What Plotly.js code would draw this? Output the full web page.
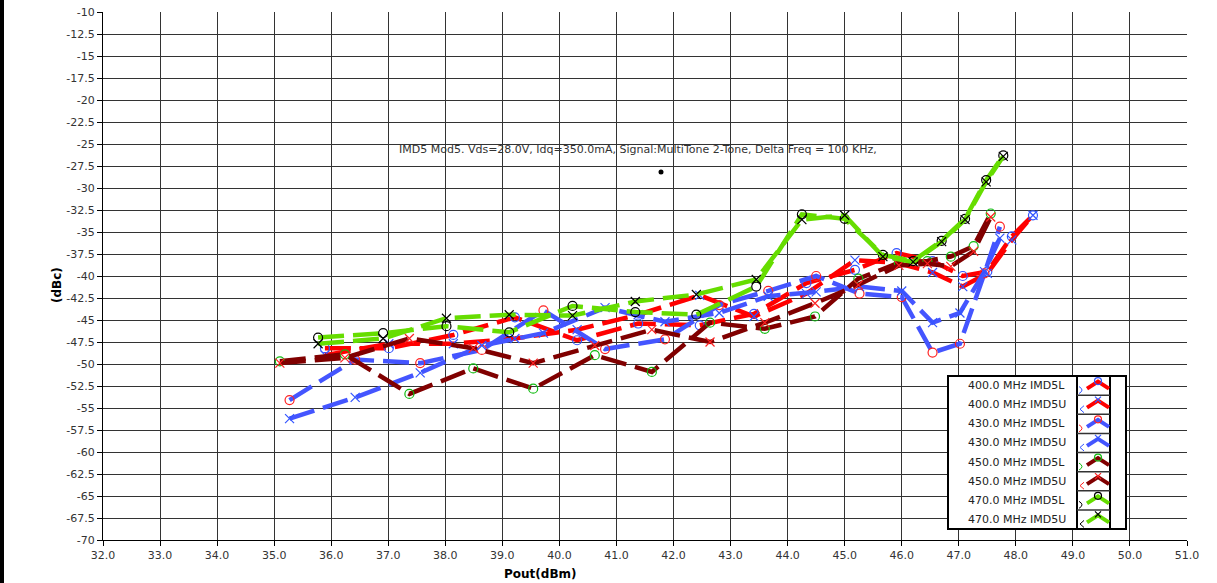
<!DOCTYPE html>
<html>
<head>
<meta charset="utf-8">
<script src="https://cdn.plot.ly/plotly-3.0.1.min.js"></script>
<style>
  html, body { margin: 0; padding: 0; background: #fff; overflow: hidden; }
  #wrap { position: relative; width: 1217px; height: 583px; }
  #chart { width: 1217px; height: 583px; }
  #edge { position: absolute; left: 0; top: 0; width: 4px; height: 583px; background: #000; }
</style>
</head>
<body>
<div id="wrap"><div id="chart"></div><div id="edge"></div></div>
<script>
// Pout (dBm) sweep points per carrier frequency
const pout400 = [35.89, 37.01, 38.14, 39.22, 40.31, 41.38, 42.46, 43.41, 44.33, 45.18, 45.91, 46.54, 47.07, 47.50, 47.93, 48.30];
const pout430 = [35.27, 36.42, 37.56, 38.64, 39.72, 40.80, 41.85, 42.80, 43.66, 44.50, 45.26, 46.00, 46.54, 47.02, 47.45, 47.72];
const pout450 = [35.10, 36.24, 37.37, 38.49, 39.54, 40.62, 41.62, 42.64, 43.60, 44.48, 45.24, 45.95, 46.45, 46.86, 47.26, 47.56];
const pout470 = [35.77, 36.91, 38.02, 39.12, 40.23, 41.33, 42.40, 43.45, 44.25, 45.00, 45.67, 46.20, 46.70, 47.11, 47.48, 47.78];

// IMD5 lower / upper products (dBc)
const imd5L400 = [-48.2, -48.2, -46.7, -44.7, -47.3, -45.4, -45.6, -44.3, -40.8, -39.3, -37.4, -38.3, -40.0, -39.5, -35.5, -33.1];
const imd5U400 = [-49.0, -47.7, -47.7, -47.1, -46.1, -44.4, -42.2, -44.6, -42.0, -38.2, -38.5, -39.6, -41.2, -39.7, -35.9, -33.1];
const imd5L430 = [-54.1, -49.5, -49.9, -48.4, -43.9, -48.3, -47.2, -43.3, -41.7, -40.0, -42.0, -42.4, -48.7, -47.7, -39.7, -34.4];
const imd5U430 = [-56.2, -53.8, -51.0, -47.9, -46.5, -43.6, -45.2, -44.2, -42.3, -41.8, -41.2, -41.7, -45.3, -44.2, -39.5, -35.7];
const imd5L450 = [-49.7, -48.9, -53.4, -50.5, -52.8, -49.0, -50.9, -45.3, -46.0, -44.6, -40.3, -38.5, -38.3, -37.8, -36.6, -32.9];
const imd5U450 = [-49.9, -49.3, -47.1, -48.2, -49.9, -47.9, -46.1, -47.5, -45.3, -43.1, -41.0, -38.8, -38.6, -38.9, -37.2, -33.3];
const imd5L470 = [-47.0, -46.5, -45.7, -46.4, -43.4, -44.1, -44.4, -41.2, -33.0, -33.5, -37.6, -38.3, -36.0, -33.5, -29.1, -26.3];
const imd5U470 = [-47.7, -47.1, -44.8, -44.4, -44.5, -42.9, -42.1, -40.4, -33.6, -33.1, -37.8, -38.4, -36.1, -33.6, -29.3, -26.4];

const seriesNames = ['400.0 MHz IMD5L', '400.0 MHz IMD5U', '430.0 MHz IMD5L', '430.0 MHz IMD5U',
                     '450.0 MHz IMD5L', '450.0 MHz IMD5U', '470.0 MHz IMD5L', '470.0 MHz IMD5U'];

const xTickVals = [32, 33, 34, 35, 36, 37, 38, 39, 40, 41, 42, 43, 44, 45, 46, 47, 48, 49, 50, 51];
const xTickText = ['32.0', '33.0', '34.0', '35.0', '36.0', '37.0', '38.0', '39.0', '40.0', '41.0',
                   '42.0', '43.0', '44.0', '45.0', '46.0', '47.0', '48.0', '49.0', '50.0', '51.0'];
const yTickVals = [-10, -12.5, -15, -17.5, -20, -22.5, -25, -27.5, -30, -32.5, -35, -37.5, -40,
                   -42.5, -45, -47.5, -50, -52.5, -55, -57.5, -60, -62.5, -65, -67.5, -70];
const yTickText = ['-10', '-12.5', '-15', '-17.5', '-20', '-22.5', '-25', '-27.5', '-30', '-32.5', '-35', '-37.5', '-40',
                   '-42.5', '-45', '-47.5', '-50', '-52.5', '-55', '-57.5', '-60', '-62.5', '-65', '-67.5', '-70'];

const noteText = 'IMD5 Mod5. Vds=28.0V, Idq=350.0mA, Signal:MultiTone 2-Tone, Delta Freq = 100 KHz,';

// styling
const RED = '#ff0000', BLUE = '#4455ff', DKRED = '#800000', GREEN = '#66dd00';
const MBLUE = '#3355ff', MRED = '#ff2222', MGREEN = '#11bb11', MBLACK = '#000000';
const FONT = 'DejaVu Sans, Verdana, sans-serif';

const styles = [
  {x: pout400, y: imd5L400, line: RED,   sym: 'circle-open',  mc: MBLUE},
  {x: pout400, y: imd5U400, line: RED,   sym: 'x-thin-open',  mc: MBLUE},
  {x: pout430, y: imd5L430, line: BLUE,  sym: 'circle-open',  mc: MRED},
  {x: pout430, y: imd5U430, line: BLUE,  sym: 'x-thin-open',  mc: MBLUE},
  {x: pout450, y: imd5L450, line: DKRED, sym: 'circle-open',  mc: MGREEN},
  {x: pout450, y: imd5U450, line: DKRED, sym: 'x-thin-open',  mc: MRED},
  {x: pout470, y: imd5L470, line: GREEN, sym: 'circle-open',  mc: MBLACK},
  {x: pout470, y: imd5U470, line: GREEN, sym: 'x-thin-open',  mc: MBLACK}
];

const traces = styles.map((s, i) => ({
  type: 'scatter', mode: 'lines+markers', name: seriesNames[i],
  x: s.x, y: s.y, showlegend: false,
  line: {color: s.line, width: 4.5, dash: '26px,9px'},
  marker: {symbol: s.sym, size: 9, color: s.mc, line: {color: s.mc, width: 1.2}}
}));

// plot area in pixels
const PL = 103, PR = 1187, PT = 12, PB = 540;
const px = v => (v - PL) / (PR - PL);
const py = v => (PB - v) / (PB - PT);

const shapes = [];
const annotations = [];

// hand-built legend box: text on the left, line sample on the right
const boxL = 948, boxR = 1126, boxT = 376, boxB = 529, colA = 1077, colB = 1110;
shapes.push({type: 'rect', xref: 'paper', yref: 'paper', x0: px(boxL), x1: px(boxR), y0: py(boxB), y1: py(boxT),
  fillcolor: '#ffffff', line: {color: '#000', width: 2}, layer: 'above'});
shapes.push({type: 'line', xref: 'paper', yref: 'paper', x0: px(colA), x1: px(colA), y0: py(boxB), y1: py(boxT),
  line: {color: '#000', width: 2}, layer: 'above'});
shapes.push({type: 'line', xref: 'paper', yref: 'paper', x0: px(colB), x1: px(colB), y0: py(boxB), y1: py(boxT),
  line: {color: '#000', width: 2}, layer: 'above'});
const rowH = (boxB - boxT) / 8;
for (let k = 1; k < 8; k++) {
  const yy = boxT + rowH * k;
  shapes.push({type: 'line', xref: 'paper', yref: 'paper', x0: px(colA), x1: px(colB), y0: py(yy), y1: py(yy),
    line: {color: '#333', width: 1.5}, layer: 'above'});
}
styles.forEach((s, i) => {
  const yc = boxT + rowH * (i + 0.5);
  annotations.push({xref: 'paper', yref: 'paper', x: px(966), y: py(yc), xanchor: 'left', yanchor: 'middle',
    text: seriesNames[i], showarrow: false, font: {family: FONT, size: 11, color: '#222'}});
  shapes.push({type: 'path', xref: 'paper', yref: 'paper', layer: 'above',
    path: `M ${px(1087)},${py(yc + 3)} L ${px(1098)},${py(yc - 4)} L ${px(1109)},${py(yc + 3)}`,
    line: {color: s.line, width: 4}});
  if (s.sym === 'circle-open') {
    shapes.push({type: 'circle', xref: 'paper', yref: 'paper', layer: 'above',
      x0: px(1094.5), x1: px(1101.5), y0: py(yc - 1), y1: py(yc - 8), line: {color: s.mc, width: 1.2}});
    shapes.push({type: 'path', xref: 'paper', yref: 'paper', layer: 'above',
      path: `M ${px(1079)},${py(yc + 1)} Q ${px(1085)},${py(yc + 4.5)} ${px(1079)},${py(yc + 8)}`,
      line: {color: s.mc, width: 1}});
  } else {
    shapes.push({type: 'path', xref: 'paper', yref: 'paper', layer: 'above',
      path: `M ${px(1095)},${py(yc - 8)} L ${px(1101)},${py(yc - 2)} M ${px(1101)},${py(yc - 8)} L ${px(1095)},${py(yc - 2)}`,
      line: {color: s.mc, width: 1.2}});
    shapes.push({type: 'path', xref: 'paper', yref: 'paper', layer: 'above',
      path: `M ${px(1084)},${py(yc + 1)} L ${px(1080)},${py(yc + 4.5)} L ${px(1084)},${py(yc + 8)}`,
      line: {color: s.mc, width: 1}});
  }
});

// measurement-condition note and its anchor dot
annotations.push({xref: 'paper', yref: 'paper', x: px(638), y: py(149), xanchor: 'center', yanchor: 'middle',
  text: noteText, showarrow: false, font: {family: FONT, size: 11, color: '#333'}});
shapes.push({type: 'circle', xref: 'paper', yref: 'paper', x0: px(658.5), x1: px(663.5), y0: py(169.5), y1: py(174.5),
  fillcolor: '#000', line: {color: '#000', width: 0}, layer: 'above'});

// axis titles
annotations.push({xref: 'paper', yref: 'paper', x: px(540), y: py(574), xanchor: 'center', yanchor: 'middle',
  text: '<b>Pout(dBm)</b>', showarrow: false, font: {family: FONT, size: 12, color: '#000'}});
annotations.push({xref: 'paper', yref: 'paper', x: px(57), y: py(285), xanchor: 'center', yanchor: 'middle',
  text: '<b>(dBc)</b>', textangle: -90, showarrow: false, font: {family: FONT, size: 12, color: '#000'}});

const layout = {
  width: 1217, height: 583,
  margin: {l: PL, r: 1217 - PR, t: PT, b: 583 - PB, pad: 0},
  paper_bgcolor: '#fff', plot_bgcolor: '#fff',
  showlegend: false,
  font: {family: FONT, size: 11, color: '#333'},
  xaxis: {range: [32, 51], tickmode: 'array', tickvals: xTickVals, ticktext: xTickText,
    showgrid: true, gridcolor: '#333', gridwidth: 1, zeroline: false,
    showline: true, linecolor: '#000', linewidth: 1, mirror: false,
    ticks: 'outside', ticklen: 5, tickcolor: '#000', automargin: false,
    tickfont: {family: FONT, size: 11, color: '#333'}},
  yaxis: {range: [-70, -10], tickmode: 'array', tickvals: yTickVals, ticktext: yTickText,
    showgrid: true, gridcolor: '#333', gridwidth: 1, zeroline: false,
    showline: true, linecolor: '#000', linewidth: 1, mirror: false,
    ticks: 'outside', ticklen: 5, tickcolor: '#000', automargin: false,
    tickfont: {family: FONT, size: 11, color: '#333'}},
  shapes: shapes,
  annotations: annotations
};

Plotly.newPlot('chart', traces, layout, {staticPlot: true, displayModeBar: false});
</script>
</body>
</html>
